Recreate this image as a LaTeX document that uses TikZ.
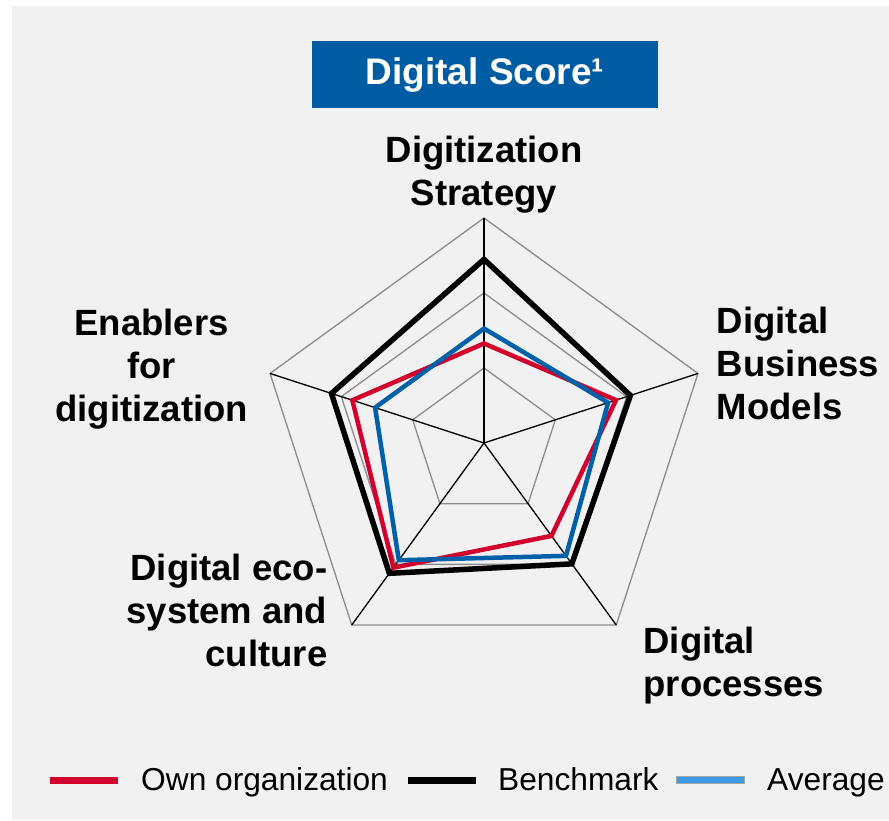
\documentclass[tikz,border=0pt]{standalone}
\usepackage{fontspec}
\setmainfont{Liberation Sans}
\definecolor{bgc}{HTML}{F1F1F1}
\definecolor{titleblue}{HTML}{005CA2}
\definecolor{ownred}{HTML}{D1002C}
\definecolor{avgblue}{HTML}{0060A8}
\definecolor{legblue}{HTML}{3C9BE6}
\definecolor{gridgray}{HTML}{8C8C8C}
\begin{document}
\begin{tikzpicture}[x=1pt,y=1pt,
  lbl/.style={inner sep=0pt, font=\fontsize{36.5}{43}\selectfont\bfseries},
  legtext/.style={inner sep=0pt, anchor=base west, font=\fontsize{31.7}{38}\selectfont},
  swatch/.style={inner sep=0pt, minimum width=68pt, minimum height=7pt},
  ring/.style={draw=gridgray, line width=1.3pt},
  axisline/.style={draw=black, line width=1.3pt},
  bench/.style={draw=black, line width=5.5pt},
  own/.style={draw=ownred, line width=4.5pt},
  avg/.style={draw=avgblue, line width=4.5pt}]
\useasboundingbox (0,0) rectangle (889,820);
\fill[white] (0,0) rectangle (889,820);
\fill[bgc] (12,0) rectangle (889,814);

% title
\node[fill=titleblue, text=white, minimum width=345.7pt, minimum height=66.7pt, inner sep=0pt,
      font=\fontsize{37}{43}\selectfont\bfseries] (title) at (485,745.2) {Digital Score¹};

% radar
\begin{scope}[shift={(484,377)}]
  \foreach \r in {75,150,225}
    \draw[ring] (90:\r) -- (18:\r) -- (-54:\r) -- (-126:\r) -- (162:\r) -- cycle;
  \foreach \a in {90,18,-54,-126,162}
    \draw[axisline] (0,0) -- (\a:225);
  \draw[bench] (90:183.6) -- (18:153.9) -- (-54:149.4) -- (-126:161.1) -- (162:160.4) -- cycle;
  \draw[own] (90:99.5) -- (18:138.8) -- (-54:114.8) -- (-126:154.1) -- (162:138.4) -- cycle;
  \draw[avg] (90:114.5) -- (18:130.5) -- (-54:139.5) -- (-126:144.9) -- (162:114.5) -- cycle;
\end{scope}

% axis labels
\node[lbl, anchor=north, align=center] (strategy) at (484,684.4) {Digitization\\Strategy};
\node[lbl, anchor=north west, align=left] (business) at (716.7,512.8) {Digital\\Business\\Models};
\node[lbl, anchor=north west, align=left] (processes) at (643.3,192.8) {Digital\\processes};
\node[lbl, anchor=north east, align=right] (ecosystem) at (327.5,266.1) {Digital eco-\\system and\\culture};
\node[lbl, anchor=north, align=center] (enablers) at (151.7,511.1) {Enablers\\for\\digitization};

% legend
\node[swatch, fill=ownred] (swown) at (84,40) {};
\node[legtext] (txtown) at (141,30) {Own organization};
\node[swatch, fill=black] (swbench) at (442,40) {};
\node[legtext] (txtbench) at (498,30) {Benchmark};
\node[swatch, fill=legblue, draw=gray!70, line width=0.8pt] (swavg) at (710,40) {};
\node[legtext] (txtavg) at (767,30) {Average};
\end{tikzpicture}
\end{document}
